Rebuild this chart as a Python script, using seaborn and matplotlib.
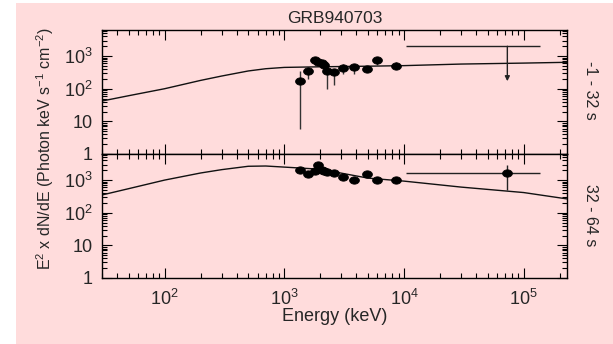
import matplotlib
matplotlib.use("Agg")
import matplotlib.pyplot as plt
from matplotlib.patches import Rectangle
from matplotlib.ticker import LogLocator, FixedLocator, FixedFormatter, NullFormatter
import seaborn as sns
import pandas as pd
import numpy as np

# ---- data ----
title = "GRB940703"
intervals = ["-1 - 32 s", "32 - 64 s"]

# model curve (E^2 dN/dE), sampled from the figure
model_e = [30, 50, 100, 200, 300, 500, 700, 1000, 2000, 5000, 10000, 30000, 100000, 230000]
model_a = [42, 61, 100, 180, 245, 350, 410, 450, 470, 490, 510, 570, 610, 645]
model_b = [350, 545, 1000, 1650, 2090, 2650, 2700, 2500, 2150, 1150, 930, 610, 415, 265]

# measured points, panel a (-1 - 32 s)
pts_e = [1360, 1590, 1820, 1930, 2080, 2160, 2290, 2620, 3110, 3840, 4870, 5920, 8500]
pts_a = [170, 350, 780, 670, 610, 530, 350, 320, 440, 450, 400, 750, 500]
pts_a_lo = [6, 195, 700, 600, 540, 470, 100, 130, 280, 290, 315, 540, 400]
pts_a_hi = [350, 450, 860, 740, 680, 590, 420, 390, 560, 560, 500, 910, 640]

# measured points, panel b (32 - 64 s)
pts_b = [2000, 1570, 1940, 2850, 2000, 1860, 1770, 1650, 1240, 1000, 1500, 1000, 1000]

# high-energy bin (10.4 MeV - 136 MeV)
hi_e, hi_elo, hi_ehi = 73000, 10400, 136000
hi_a_limit, hi_a_arrow = 2000, 170
hi_b, hi_b_lo, hi_b_hi = 1690, 480, 2970

pink = "#ffdcdc"
sns.set_style("ticks")
plt.rcParams["font.family"] = ["Liberation Sans", "DejaVu Sans"]
plt.rcParams["mathtext.default"] = "regular"

fig = plt.figure(figsize=(6.13, 3.44), dpi=100, facecolor="white")
fig.patches.append(Rectangle((16 / 613, 0), 1, 1 - 3 / 344, transform=fig.transFigure,
                             facecolor=pink, edgecolor="none", zorder=-10))

left, width = 102 / 613, 465 / 613
h = 124 / 344
ax_a = fig.add_axes([left, 1 - 154 / 344, width, h])
ax_b = fig.add_axes([left, 1 - 278 / 344, width, h])

ell = np.linspace(0, 2 * np.pi, 30)
ell_marker = np.column_stack([np.cos(ell), 0.75 * np.sin(ell)])

def style_axis(ax, show_x):
    ax.set_facecolor(pink)
    ax.set_xscale("log")
    ax.set_yscale("log")
    ax.set_xlim(30, 2.3e5)
    ax.set_ylim(1, 6300)
    for s in ax.spines.values():
        s.set_color("black")
        s.set_linewidth(1.0)
    ax.yaxis.set_major_locator(FixedLocator([1, 10, 100, 1000]))
    ax.yaxis.set_major_formatter(FixedFormatter(["1", "10", "10$^2$", "10$^3$"]))
    ax.yaxis.set_minor_locator(LogLocator(base=10, subs=np.arange(2, 10), numticks=20))
    ax.yaxis.set_minor_formatter(NullFormatter())
    ax.xaxis.set_minor_locator(LogLocator(base=10, subs=np.arange(2, 10), numticks=20))
    ax.xaxis.set_minor_formatter(NullFormatter())
    ax.tick_params(which="both", direction="in", top=True, right=True,
                   color="black", width=0.8, labelsize=13)
    ax.tick_params(which="major", length=7)
    ax.tick_params(which="minor", length=3.5)
    ax.tick_params(axis="x", pad=8)
    ax.tick_params(axis="y", pad=7)
    if not show_x:
        ax.tick_params(axis="x", labelbottom=False)
    ax.set_xlabel("")
    ax.set_ylabel("")

# panel a
df_ma = pd.DataFrame({"E": model_e, "F": model_a})
sns.lineplot(data=df_ma, x="E", y="F", ax=ax_a, color="#111111", lw=1.0,
             estimator=None, sort=False)
pa = np.array(pts_a)
ax_a.errorbar(pts_e, pts_a, yerr=[pa - np.array(pts_a_lo), np.array(pts_a_hi) - pa],
              fmt="none", ecolor="#333333", elinewidth=1.0, zorder=3)
df_a = pd.DataFrame({"E": pts_e, "F": pts_a})
sns.scatterplot(data=df_a, x="E", y="F", ax=ax_a, color="black", marker=ell_marker,
                s=50, edgecolor="black", zorder=4)
ax_a.errorbar([hi_e], [hi_a_limit], xerr=[[hi_e - hi_elo], [hi_ehi - hi_e]],
              fmt="none", ecolor="#222222", elinewidth=1.0)
ax_a.annotate("", xy=(hi_e, hi_a_arrow), xytext=(hi_e, hi_a_limit),
              arrowprops=dict(arrowstyle="-|>", color="#222222", lw=1.0,
                              mutation_scale=7, shrinkA=0, shrinkB=0))
style_axis(ax_a, False)

# panel b
df_mb = pd.DataFrame({"E": model_e, "F": model_b})
sns.lineplot(data=df_mb, x="E", y="F", ax=ax_b, color="#111111", lw=1.0,
             estimator=None, sort=False)
df_b = pd.DataFrame({"E": pts_e, "F": pts_b})
sns.scatterplot(data=df_b, x="E", y="F", ax=ax_b, color="black", marker=ell_marker,
                s=50, edgecolor="black", zorder=4)
ax_b.errorbar([hi_e], [hi_b], xerr=[[hi_e - hi_elo], [hi_ehi - hi_e]],
              yerr=[[hi_b - hi_b_lo], [hi_b_hi - hi_b]],
              fmt="none", ecolor="#222222", elinewidth=1.0)
sns.scatterplot(x=[hi_e], y=[hi_b], ax=ax_b, color="black", marker=ell_marker,
                s=50, edgecolor="black", zorder=4)
style_axis(ax_b, True)
ax_b.set_xlabel("Energy (keV)", fontsize=13, labelpad=-1)

ax_a.set_title(title, fontsize=12.5, pad=5)
fig.text(45 / 613, 1 - 149 / 344,
         "E$^2$ x dN/dE (Photon keV s$^{-1}$ cm$^{-2}$)",
         rotation=90, ha="center", va="center", fontsize=11.5)
fig.text(591 / 613, 1 - 90 / 344, intervals[0], rotation=270,
         ha="center", va="center", fontsize=11.5)
fig.text(591 / 613, 1 - 215 / 344, intervals[1], rotation=270,
         ha="center", va="center", fontsize=11.5)

fig.savefig("out.png", dpi=100, facecolor="white")
